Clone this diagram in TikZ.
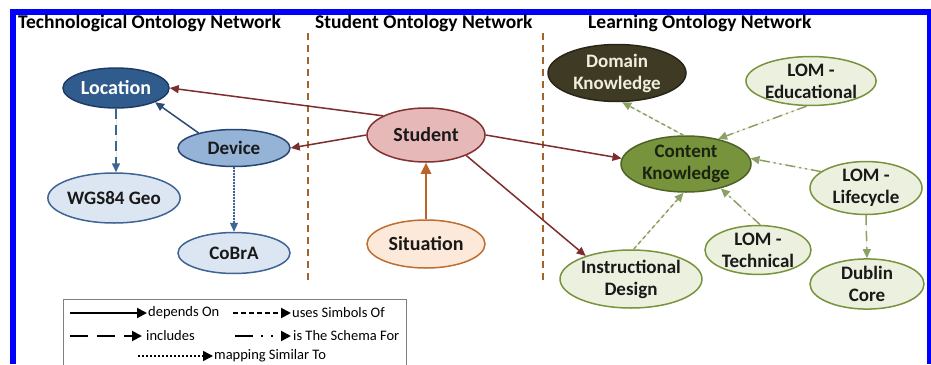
\documentclass[tikz,border=0pt]{standalone}
\usepackage{fontspec}
\setmainfont{Carlito}
\usetikzlibrary{arrows.meta,shapes.geometric}
\definecolor{frameblue}{RGB}{0,0,255}
\definecolor{divbrown}{RGB}{160,100,45}
\definecolor{locfill}{RGB}{47,92,140}
\definecolor{locdraw}{RGB}{30,60,100}
\definecolor{devfill}{RGB}{149,179,215}
\definecolor{devdraw}{RGB}{40,70,115}
\definecolor{ltbfill}{RGB}{220,230,242}
\definecolor{ltbdraw}{RGB}{62,100,150}
\definecolor{stufill}{RGB}{230,185,184}
\definecolor{studraw}{RGB}{130,50,50}
\definecolor{sitfill}{RGB}{253,233,217}
\definecolor{sitdraw}{RGB}{190,110,50}
\definecolor{dkfill}{RGB}{62,58,36}
\definecolor{dkdraw}{RGB}{40,38,24}
\definecolor{dktext}{RGB}{240,238,220}
\definecolor{ckfill}{RGB}{119,147,60}
\definecolor{ckdraw}{RGB}{79,98,40}
\definecolor{cktext}{RGB}{25,35,15}
\definecolor{pgfill}{RGB}{235,241,222}
\definecolor{pgdraw}{RGB}{119,147,60}
\definecolor{redarrow}{RGB}{125,45,45}
\definecolor{bluearrow}{RGB}{45,75,115}
\definecolor{sitarrow}{RGB}{185,100,40}
\definecolor{greenline}{RGB}{140,160,100}
\definecolor{greentip}{RGB}{110,140,55}
\definecolor{txtdark}{RGB}{25,25,25}
\begin{document}
\begin{tikzpicture}[x=1pt,y=-1pt,
  ell/.style={ellipse,line width=1.5pt,inner sep=0pt,font=\fontsize{19}{22}\selectfont\bfseries,align=center,text=txtdark},
  ttl/.style={anchor=west,inner sep=0pt,font=\fontsize{19.5}{22}\selectfont\bfseries,text=black},
  divider/.style={draw=divbrown,line width=2pt,dash pattern=on 7pt off 5pt},
  tip/.style={-{Triangle[length=9pt,width=8pt]}},
  redarr/.style={tip,draw=redarrow,line width=1.5pt},
  usessym/.style={dash pattern=on 4pt off 3pt},
  includes/.style={dash pattern=on 10pt off 6pt},
  schema/.style={dash pattern=on 10pt off 4pt on 2pt off 4pt on 2pt off 4pt},
  mapping/.style={dash pattern=on 1.5pt off 1.5pt},
  greenarr/.style={tip,draw=greenline,fill=greentip,line width=1.5pt},
  legarr/.style={-{Triangle[length=10pt,width=10pt]},line width=2pt,black},
  legtxt/.style={anchor=west,inner sep=0pt,font=\fontsize{14.5}{16}\selectfont,text=black}
]
\useasboundingbox (0,0) rectangle (931,364);
\fill[white] (0,0) rectangle (931,364);
% blue frame
\fill[frameblue] (10,9) rectangle (931,15);
\fill[frameblue] (10,9) rectangle (16,364);
\fill[frameblue] (927,9) rectangle (931,364);

% titles
\node[ttl] (t1) at (18,23) {Technological Ontology Network};
\node[ttl] (t2) at (315,23) {Student Ontology Network};
\node[ttl] (t3) at (588,23) {Learning Ontology Network};

% dividers
\draw[divider] (308,33) -- (308,280);
\draw[divider] (543,33) -- (543,282);

% technological nodes
\node[ell,fill=locfill,draw=locdraw,text=white,minimum width=106pt,minimum height=40pt,font=\fontsize{20}{22}\selectfont\bfseries] (loc) at (116,88) {Location};
\node[ell,fill=devfill,draw=devdraw,minimum width=112pt,minimum height=37pt] (dev) at (234,148) {Device};
\node[ell,fill=ltbfill,draw=ltbdraw,minimum width=126pt,minimum height=50pt] (wgs) at (114,198) {WGS84 Geo};
\node[ell,fill=ltbfill,draw=ltbdraw,minimum width=112pt,minimum height=41pt] (cob) at (234,253) {CoBrA};

% student nodes
\node[ell,fill=stufill,draw=studraw,minimum width=118pt,minimum height=54pt,font=\fontsize{20}{22}\selectfont\bfseries] (stu) at (426,135) {Student};
\node[ell,fill=sitfill,draw=sitdraw,minimum width=118pt,minimum height=48pt,font=\fontsize{20}{22}\selectfont\bfseries] (sit) at (426,244) {Situation};

% learning nodes
\node[ell,fill=dkfill,draw=dkdraw,text=dktext,minimum width=138pt,minimum height=57pt] (dk) at (617,73) {Domain\\Knowledge};
\node[ell,fill=pgfill,draw=pgdraw,minimum width=124pt,minimum height=45pt] (lomed) at (811,81) {LOM -\\Educational};
\node[ell,fill=ckfill,draw=ckdraw,text=cktext,minimum width=130pt,minimum height=56pt] (ck) at (686,164) {Content\\Knowledge};
\node[ell,fill=pgfill,draw=pgdraw,minimum width=112pt,minimum height=41pt] (lomlc) at (866,188) {LOM -\\Lifecycle};
\node[ell,fill=pgfill,draw=pgdraw,minimum width=142pt,minimum height=58pt] (id) at (631,279) {Instructional\\Design};
\node[ell,fill=pgfill,draw=pgdraw,minimum width=106pt,minimum height=46pt] (lomtech) at (758,250) {LOM -\\Technical};
\node[ell,fill=pgfill,draw=pgdraw,minimum width=114pt,minimum height=44pt] (dub) at (867,284) {Dublin\\Core};

% student connectors (depends On)
\draw[redarr,fill=redarrow] (stu.156) -- (loc.east);
\draw[redarr,fill=redarrow] (stu.west) -- (dev.east);
\draw[redarr,fill=redarrow] (stu.east) -- (ck.175);
\draw[redarr,fill=redarrow] (stu.-27) -- (id.153);
\draw[-{Triangle[length=11pt,width=10pt]},draw=sitarrow,fill=sitarrow,line width=2.5pt] (sit.north) -- (stu.south);

% technological connectors
\draw[tip,draw=bluearrow,fill=bluearrow,line width=1.5pt] (dev.157) -- (loc.-20);
\draw[tip,draw=ltbdraw,fill=bluearrow,line width=1.5pt,includes] (loc.south) -- (loc.south |- wgs.north);
\draw[tip,draw=ltbdraw,fill=bluearrow,line width=1.2pt,mapping] (dev.south) -- (cob.north);

% learning connectors
\draw[greenarr,usessym] (ck.95) -- (dk.-80);
\draw[greenarr,schema] (lomed.-100) -- (ck.38);
\draw[greenarr,schema] (lomlc.160) -- (ck.5);
\draw[greenarr,schema] (lomtech.85) -- (ck.-35);
\draw[greenarr,usessym] (id.85) -- (ck.-95);
\draw[greenarr,includes] (lomlc.south) -- (dub.north);

% legend
\draw[draw=gray,line width=1pt] (63,372) -- (63,299) -- (406,299) -- (406,372);
\coordinate (l1a) at (70,313); \coordinate (l1b) at (147,313);
\coordinate (l2a) at (233,313); \coordinate (l2b) at (291,313);
\coordinate (l3a) at (70,336); \coordinate (l3b) at (142,336);
\coordinate (l4a) at (235,336); \coordinate (l4b) at (291,336);
\coordinate (l5a) at (138,356); \coordinate (l5b) at (213,356);
\draw[legarr] (l1a) -- (l1b);
\node[legtxt] (lt1) at (148,313) {depends On};
\draw[legarr,dash pattern=on 5pt off 3pt] (l2a) -- (l2b);
\node[legtxt] (lt2) at (292,313) {uses Simbols Of};
\draw[legarr,dash pattern=on 18pt off 9pt] (l3a) -- (l3b);
\node[legtxt] (lt3) at (146,336) {includes};
\draw[legarr,dash pattern=on 18pt off 8pt on 2pt off 8pt on 2pt off 8pt] (l4a) -- (l4b);
\node[legtxt] (lt4) at (293,336) {is The Schema For};
\draw[legarr,line width=1.5pt,dash pattern=on 2pt off 2pt] (l5a) -- (l5b);
\node[legtxt] (lt5) at (214,356) {mapping Similar To};
\end{tikzpicture}
\end{document}
